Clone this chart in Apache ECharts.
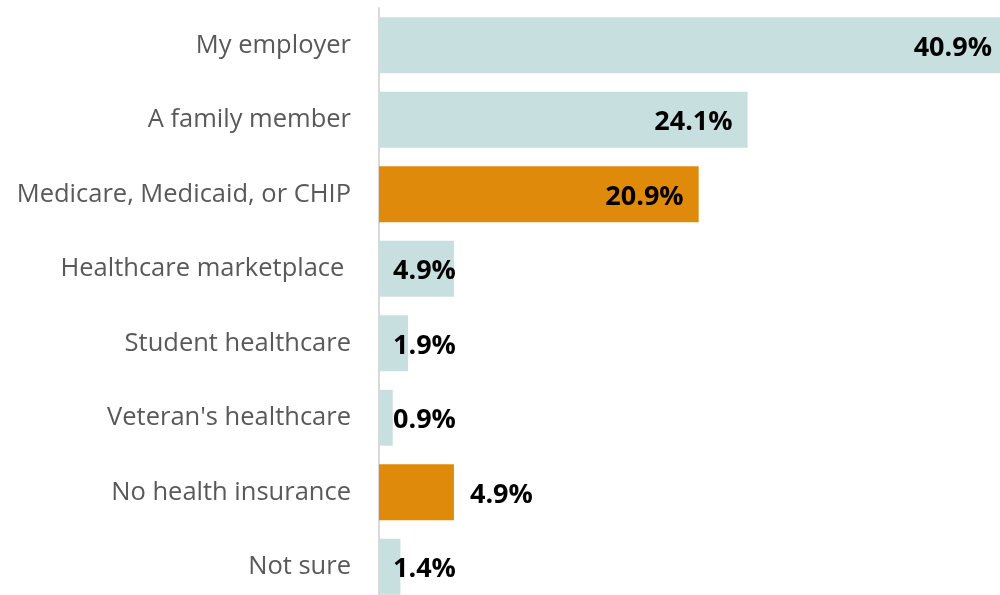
<!DOCTYPE html>
<html>
<head>
<meta charset="utf-8">
<script src="https://cdn.jsdelivr.net/npm/echarts@6/dist/echarts.min.js"></script>
<style>
  html, body { margin: 0; padding: 0; background: #fff; overflow: hidden; }
  #main { width: 1000px; height: 610px; }
</style>
</head>
<body>
<div id="main"></div>
<script>
var categories = ['My employer', 'A family member', 'Medicare, Medicaid, or CHIP', 'Healthcare marketplace ',
  'Student healthcare', "Veteran's healthcare", 'No health insurance', 'Not sure'];
var values = [40.9, 24.1, 20.9, 4.9, 1.9, 0.9, 4.9, 1.4];
// which bars are highlighted in orange
var highlight = [false, false, true, false, false, false, true, false];

var blue = '#c8dfe0';
var orange = '#e08a0b';

var chart = echarts.init(document.getElementById('main'));

var data = values.map(function (v, i) {
  var label;
  if (v > 30) {
    label = { position: 'insideRight', distance: 8 };
  } else if (v > 10) {
    label = { position: 'insideRight', distance: 15 };
  } else if (highlight[i]) {
    label = { position: 'right', distance: 16 };
  } else {
    label = { position: 'insideLeft', distance: 14 };
  }
  return {
    value: v,
    itemStyle: { color: highlight[i] ? orange : blue },
    label: label
  };
});

chart.setOption({
  animation: false,
  grid: { left: 379, width: 621, top: 8, height: 596, containLabel: false },
  xAxis: {
    type: 'value',
    min: 0,
    max: 40.6,
    show: false
  },
  yAxis: {
    type: 'category',
    inverse: true,
    data: categories,
    axisLine: { show: true, lineStyle: { color: '#d9d9d9', width: 2 } },
    axisTick: { show: false },
    axisLabel: {
      margin: 28,
      color: '#595959',
      fontSize: 25.5,
      fontFamily: 'Open Sans',
      padding: [5, 0, 0, 0]
    }
  },
  series: [{
    type: 'bar',
    data: data,
    barCategoryGap: '25%',
    label: {
      show: true,
      offset: [0, 3],
      formatter: function (p) { return p.value.toFixed(1) + '%'; },
      color: '#000',
      fontWeight: 'bold',
      fontSize: 27,
      fontFamily: 'Open Sans'
    }
  }]
});
</script>
</body>
</html>
